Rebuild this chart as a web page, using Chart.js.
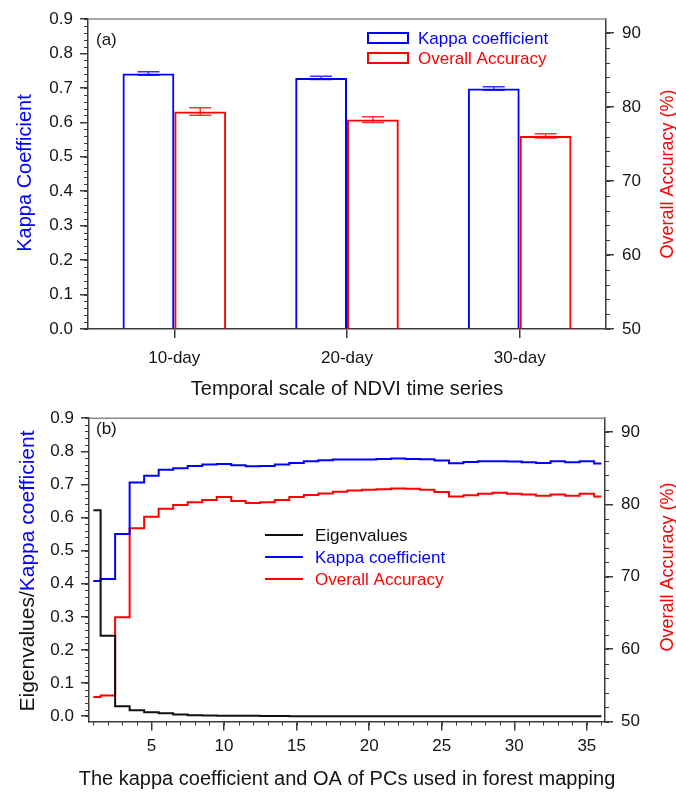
<!DOCTYPE html>
<html>
<head>
<meta charset="utf-8">
<title>Kappa / OA</title>
<script src="https://cdn.jsdelivr.net/npm/chart.js@4.4.1/dist/chart.umd.min.js"></script>
<style>
  body { margin: 0; background: #fff; }
  canvas { display: block; }
</style>
</head>
<body>
<canvas id="panelA" width="676" height="400"></canvas>
<canvas id="panelB" width="676" height="394"></canvas>
<script>
// (a) accuracy for each NDVI compositing period
const periods = ['10-day', '20-day', '30-day'];
const kappaByPeriod = [0.742, 0.729, 0.698];
const kappaErr = [0.005, 0.005, 0.005];
const oaByPeriod = [79.4, 78.3, 76.1];
const oaErr = [0.5, 0.4, 0.3];

// (b) accuracy vs. number of principal components
const pcs = [1, 2, 3, 4, 5, 6, 7, 8, 9, 10, 11, 12, 13, 14, 15, 16, 17, 18,
             19, 20, 21, 22, 23, 24, 25, 26, 27, 28, 29, 30, 31, 32, 33, 34, 35, 36];
const eigenvalues = [0.622, 0.243, 0.030, 0.018, 0.012, 0.009, 0.005, 0.003, 0.002, 0.001,
                     0.001, 0.001, 0.0005, 0.0005, 0, 0, 0, 0, 0, 0, 0, 0, 0, 0,
                     0, 0, 0, 0, 0, 0, 0, 0, 0, 0, 0, 0];
const kappaByPC = [0.408, 0.414, 0.550, 0.706, 0.726, 0.744, 0.749, 0.756, 0.760, 0.762,
                   0.758, 0.755, 0.756, 0.760, 0.765, 0.770, 0.773, 0.775, 0.775, 0.775,
                   0.777, 0.778, 0.777, 0.776, 0.772, 0.764, 0.768, 0.770, 0.770, 0.769,
                   0.767, 0.765, 0.770, 0.767, 0.770, 0.763];
const oaByPC = [53.4, 53.6, 64.4, 76.7, 78.3, 79.4, 79.9, 80.3, 80.6, 81.0,
                80.45, 80.2, 80.3, 80.6, 81.0, 81.3, 81.5, 81.75, 81.9, 82.0,
                82.1, 82.2, 82.15, 82.0, 81.7, 81.1, 81.25, 81.45, 81.6, 81.45,
                81.35, 81.2, 81.35, 81.2, 81.45, 81.1];

// tick labels
const kappaTicks = [0, 0.1, 0.2, 0.3, 0.4, 0.5, 0.6, 0.7, 0.8, 0.9];
const oaTicks = [50, 60, 70, 80, 90];
const pcTicks = [5, 10, 15, 20, 25, 30, 35];

const BLUE = '#0000ff';
const RED = '#ff0000';
const INK = '#141414';
const AXIS = '#3a3a3a';
const FONT = '"Liberation Sans", Arial, Helvetica, sans-serif';

Chart.defaults.font.family = FONT;
Chart.defaults.color = INK;

// short minor tick marks between the labelled ones
const minorTicks = {
  id: 'minorTicks',
  afterDraw(chart, args, opts) {
    const ctx = chart.ctx;
    ctx.save();
    ctx.strokeStyle = AXIS;
    ctx.lineWidth = 1;
    for (const id in opts.axes) {
      const s = chart.scales[id];
      const m = opts.axes[id];
      ctx.beginPath();
      for (let i = 0; ; i++) {
        const v = m.from + i * m.step;
        if (v > m.to + 1e-9) break;
        const p = Math.round(s.getPixelForValue(v)) + 0.5;
        if (s.position === 'left') { ctx.moveTo(s.right - m.len, p); ctx.lineTo(s.right, p); }
        else if (s.position === 'right') { ctx.moveTo(s.left, p); ctx.lineTo(s.left + m.len, p); }
        else { ctx.moveTo(p, s.top); ctx.lineTo(p, s.top + m.len); }
      }
      ctx.stroke();
    }
    ctx.restore();
  }
};

// thin line closing the plot box at the top
const frameTop = {
  id: 'frameTop',
  afterDraw(chart) {
    const { ctx, chartArea: a } = chart;
    ctx.save();
    ctx.strokeStyle = '#8a8a8a';
    ctx.lineWidth = 1.5;
    ctx.beginPath();
    ctx.moveTo(a.left, a.top);
    ctx.lineTo(a.right, a.top);
    ctx.stroke();
    ctx.restore();
  }
};

// +/- error whiskers on top of each bar
const errorBars = {
  id: 'errorBars',
  afterDatasetsDraw(chart) {
    const ctx = chart.ctx;
    chart.data.datasets.forEach((ds, di) => {
      if (!ds.errors) return;
      const meta = chart.getDatasetMeta(di);
      const ys = chart.scales[meta.yAxisID];
      meta.data.forEach((bar, i) => {
        const hi = ys.getPixelForValue(ds.data[i] + ds.errors[i]);
        const lo = ys.getPixelForValue(ds.data[i] - ds.errors[i]);
        ctx.save();
        ctx.strokeStyle = ds.borderColor;
        ctx.globalAlpha = 0.8;
        ctx.lineWidth = 1.5;
        ctx.beginPath();
        ctx.moveTo(bar.x, hi); ctx.lineTo(bar.x, lo);
        ctx.moveTo(bar.x - 11, hi); ctx.lineTo(bar.x + 11, hi);
        ctx.moveTo(bar.x - 11, lo); ctx.lineTo(bar.x + 11, lo);
        ctx.stroke();
        ctx.restore();
      });
    });
  }
};

// legend inside the plot box, text in the series colour
const keyList = {
  id: 'keyList',
  afterDraw(chart, args, opts) {
    const ctx = chart.ctx;
    ctx.save();
    ctx.font = '17px ' + FONT;
    ctx.textBaseline = 'middle';
    chart.data.datasets.forEach((ds, i) => {
      const y = opts.y + i * opts.gap;
      ctx.strokeStyle = ds.borderColor;
      ctx.lineWidth = 2;
      if (opts.kind === 'box') {
        ctx.strokeRect(opts.x, y - 5, 40, 10);
      } else {
        ctx.beginPath();
        ctx.moveTo(opts.x, y);
        ctx.lineTo(opts.x + 38, y);
        ctx.stroke();
      }
      ctx.fillStyle = ds.borderColor;
      ctx.fillText(ds.label, opts.x + opts.textDx, y + 1);
    });
    ctx.restore();
  }
};

// panel letter, vertical axis titles (read bottom to top, may mix colours)
// and an optional wide x title that may run past the plot box
const panelText = {
  id: 'panelText',
  afterDraw(chart, args, opts) {
    const ctx = chart.ctx;
    ctx.save();
    ctx.textBaseline = 'middle';
    ctx.fillStyle = INK;
    ctx.font = '17px ' + FONT;
    ctx.fillText(opts.tag, opts.tagX, opts.tagY);
    if (opts.xTitle) {
      const a = chart.chartArea;
      ctx.font = opts.xTitle.size + 'px ' + FONT;
      ctx.textAlign = 'center';
      ctx.fillText(opts.xTitle.text, (a.left + a.right) / 2, opts.xTitle.y);
      ctx.textAlign = 'left';
    }
    opts.titles.forEach(t => {
      ctx.save();
      ctx.font = t.size + 'px ' + FONT;
      ctx.translate(t.x, t.y);
      ctx.rotate(-Math.PI / 2);
      const total = t.parts.reduce((w, p) => w + ctx.measureText(p[0]).width, 0);
      let x = -total / 2;
      t.parts.forEach(p => {
        ctx.fillStyle = p[1];
        ctx.fillText(p[0], x, 0);
        x += ctx.measureText(p[0]).width;
      });
      ctx.restore();
    });
    ctx.restore();
  }
};

function tickFont() { return { size: 17 }; }

// ---------- (a) bars ----------
new Chart(document.getElementById('panelA'), {
  type: 'bar',
  data: {
    labels: periods,
    datasets: [
      { label: 'Kappa coefficient', data: kappaByPeriod, errors: kappaErr, yAxisID: 'y',
        borderColor: BLUE, backgroundColor: 'rgba(255,255,255,0)', borderWidth: 2 },
      { label: 'Overall Accuracy', data: oaByPeriod, errors: oaErr, yAxisID: 'y2',
        borderColor: RED, backgroundColor: 'rgba(255,255,255,0)', borderWidth: 2 }
    ]
  },
  options: {
    responsive: false,
    animation: false,
    categoryPercentage: 0.6,
    barPercentage: 1,
    layout: { padding: { top: 19, right: 0, bottom: 0, left: 0 } },
    plugins: {
      legend: { display: false },
      tooltip: { enabled: false },
      minorTicks: { axes: {
        y: { from: 0, to: 0.9, step: 0.02, len: 4 },
        y2: { from: 50, to: 90, step: 2, len: 4 }
      } },
      keyList: { kind: 'box', x: 368, y: 38, gap: 20, textDx: 50 },
      panelText: {
        tag: '(a)', tagX: 96, tagY: 40,
        titles: [
          { x: 25, y: 173, size: 20, parts: [['Kappa Coefficient', BLUE]] },
          { x: 668, y: 174, size: 18, parts: [['Overall Accuracy (%)', RED]] }
        ]
      }
    },
    scales: {
      x: {
        offset: true,
        grid: { drawOnChartArea: false, offset: false, tickLength: 9, color: AXIS, lineWidth: 1.5 },
        border: { color: AXIS, width: 1.5 },
        ticks: { font: tickFont(), color: INK, padding: 10 },
        title: { display: true, text: 'Temporal scale of NDVI time series', color: INK,
                 font: { size: 20, lineHeight: 1 }, padding: { top: 0, bottom: 1 } },
        afterFit(s) { s.height = 71; }
      },
      y: {
        position: 'left', min: 0, max: 0.9,
        afterBuildTicks(s) { s.ticks = kappaTicks.map(v => ({ value: v })); },
        grid: { drawOnChartArea: false, tickLength: 8, color: AXIS, lineWidth: 1.5 },
        border: { color: AXIS, width: 1.5 },
        ticks: { font: tickFont(), color: INK, padding: 7, callback: v => v.toFixed(1) },
        afterFit(s) { s.width = 88; }
      },
      y2: {
        position: 'right', min: 50, max: 91.9,
        afterBuildTicks(s) { s.ticks = oaTicks.map(v => ({ value: v })); },
        grid: { drawOnChartArea: false, tickLength: 8, color: AXIS, lineWidth: 1.5 },
        border: { color: AXIS, width: 1.5 },
        ticks: { font: tickFont(), color: INK, padding: 8, callback: v => String(v) },
        afterFit(s) { s.width = 70; }
      }
    }
  },
  plugins: [minorTicks, frameTop, errorBars, keyList, panelText]
});

// ---------- (b) step lines ----------
const toPoints = vals => pcs.map((pc, i) => ({ x: pc, y: vals[i] }));

new Chart(document.getElementById('panelB'), {
  type: 'line',
  data: {
    datasets: [
      { label: 'Eigenvalues', data: toPoints(eigenvalues), yAxisID: 'y', borderColor: '#111111' },
      { label: 'Kappa coefficient', data: toPoints(kappaByPC), yAxisID: 'y', borderColor: BLUE },
      { label: 'Overall Accuracy', data: toPoints(oaByPC), yAxisID: 'y2', borderColor: RED }
    ]
  },
  options: {
    responsive: false,
    animation: false,
    elements: {
      line: { stepped: 'middle', borderWidth: 2, fill: false },
      point: { radius: 0 }
    },
    layout: { padding: { top: 12, right: 0, bottom: 0, left: 0 } },
    plugins: {
      legend: { display: false },
      tooltip: { enabled: false },
      minorTicks: { axes: {
        x: { from: 1, to: 36, step: 1, len: 4 },
        y: { from: 0, to: 0.9, step: 0.02, len: 4 },
        y2: { from: 50, to: 90, step: 2, len: 4 }
      } },
      keyList: { kind: 'line', x: 265, y: 135, gap: 22, textDx: 50 },
      panelText: {
        tag: '(b)', tagX: 96, tagY: 29,
        xTitle: { text: 'The kappa coefficient and OA of PCs used in forest mapping', size: 20, y: 379 },
        titles: [
          { x: 28, y: 171, size: 21, parts: [['Eigenvalues/', INK], ['Kappa coefficient', BLUE]] },
          { x: 668, y: 167, size: 18, parts: [['Overall Accuracy (%)', RED]] }
        ]
      }
    },
    scales: {
      x: {
        type: 'linear', min: 0.7, max: 36.25,
        afterBuildTicks(s) { s.ticks = pcTicks.map(v => ({ value: v })); },
        grid: { drawOnChartArea: false, tickLength: 9, color: AXIS, lineWidth: 1.5 },
        border: { color: AXIS, width: 1.5 },
        ticks: { font: tickFont(), color: INK, padding: 6, callback: v => String(v) },
        afterFit(s) { s.height = 72.5; }
      },
      y: {
        position: 'left', min: -0.016, max: 0.9,
        afterBuildTicks(s) { s.ticks = kappaTicks.map(v => ({ value: v })); },
        grid: { drawOnChartArea: false, tickLength: 8, color: AXIS, lineWidth: 1.5 },
        border: { color: AXIS, width: 1.5 },
        ticks: { font: tickFont(), color: INK, padding: 7, callback: v => v.toFixed(1) },
        afterFit(s) { s.width = 89; }
      },
      y2: {
        position: 'right', min: 50, max: 91.9,
        afterBuildTicks(s) { s.ticks = oaTicks.map(v => ({ value: v })); },
        grid: { drawOnChartArea: false, tickLength: 8, color: AXIS, lineWidth: 1.5 },
        border: { color: AXIS, width: 1.5 },
        ticks: { font: tickFont(), color: INK, padding: 8, callback: v => String(v) },
        afterFit(s) { s.width = 71; }
      }
    }
  },
  plugins: [minorTicks, frameTop, keyList, panelText]
});
</script>
</body>
</html>
